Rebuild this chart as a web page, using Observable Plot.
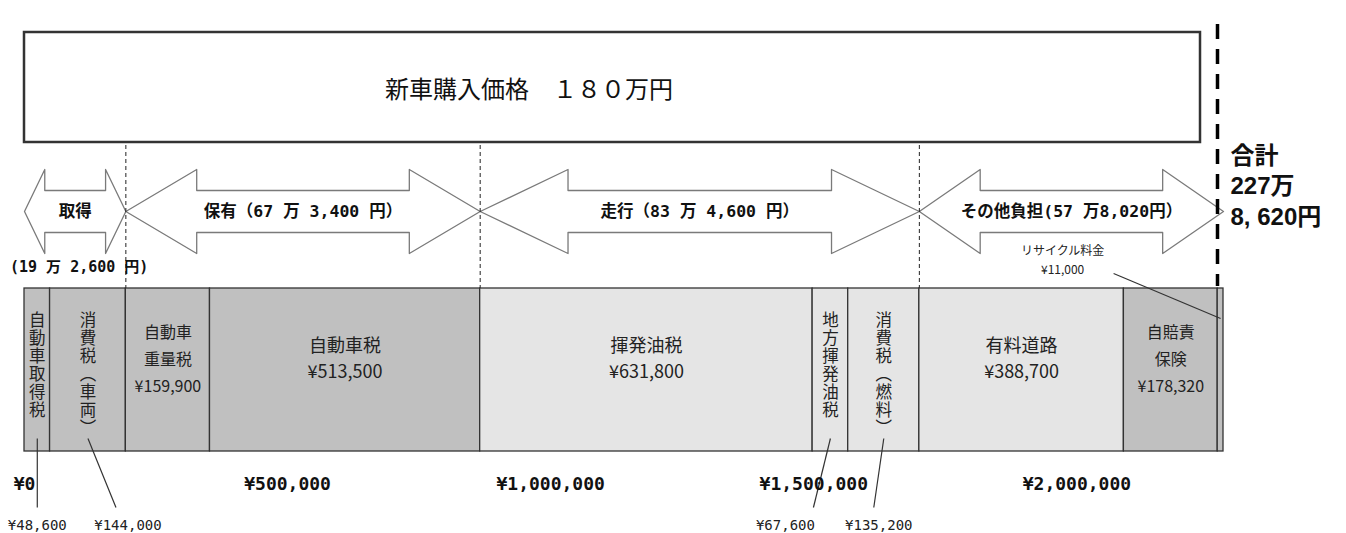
<!DOCTYPE html>
<html>
<head>
<meta charset="utf-8">
<script src="https://cdn.jsdelivr.net/npm/d3@7"></script>
<script src="https://cdn.jsdelivr.net/npm/@observablehq/plot@0.6"></script>
<style>
  html, body { margin: 0; padding: 0; background: #fff; }
  #chart { width: 1346px; height: 533px; overflow: hidden; }
</style>
</head>
<body>
<div id="chart"></div>
<script>
// ---------------- DATA ----------------
const categories = ["自動車取得税", "消費税（車両）", "自動車重量税", "自動車税", "揮発油税",
  "地方揮発油税", "消費税（燃料）", "有料道路", "自賠責保険", "リサイクル料金"];
const values = [48600, 144000, 159900, 513500, 631800, 67600, 135200, 388700, 178320, 11000];
const groupOf = ["取得", "取得", "保有", "保有", "走行", "走行", "走行", "その他", "その他", "その他"];
const costType = ["固定", "固定", "固定", "固定", "走行", "走行", "走行", "走行", "固定", "固定"];
const displayNames = ["自動車取得税", "消費税（車両）", "自動車\n重量税", "自動車税", "揮発油税",
  "地方揮発油税", "消費税（燃料）", "有料道路", "自賠責\n保険", "リサイクル料金"];
const groupNames = ["取得", "保有", "走行", "その他"];
const groupLabels = ["取得", "保有（67 万 3,400 円）", "走行（83 万 4,600 円）", "その他負担(57 万8,020円）"];
const groupSubLabels = ["(19 万 2,600 円)", "", "", ""];
const purchaseLabel = "新車購入価格　１８０万円";
const totalLabel = "合計\n227万\n8, 620円";
const tickValues = [0, 500000, 1000000, 1500000, 2000000];

// ---------------- LAYOUT ----------------
const W = 1346, H = 533, ML = 24, MR = 123, MB = 82;
const Y = {
  bannerTop: 32, bannerBottom: 142, bannerText: 90,
  guideTop: 145, arrowMid: 211, headHalf: 42, shaftHalf: 21, groupSub: 267,
  barTop: 288, barBottom: 451, barText: 356, vertTop: 306,
  leaderTop: 438, leaderBottom: 507, valueLabel: 525,
  totalTop: 24, totalBottom: 286, totalText: 184,
  recycleText: 258, recycleLineTop: 273, recycleLineBottom: 318
};
// pixel offsets of call-out labels for narrow segments
const callout = {
  "自動車取得税": {line: 0, label: 0},
  "消費税（車両）": {line: 28, label: 40},
  "地方揮発油税": {line: -17, label: -45},
  "消費税（燃料）": {line: -10, label: -5}
};
const CJK = "'Noto Sans CJK JP', sans-serif";
const MONO = "'DejaVu Sans Mono', 'Noto Sans CJK JP', monospace";

// ---------------- DERIVED ----------------
let acc = 0;
const segs = categories.map((c, i) => {
  const s = {name: c, label: displayNames[i], value: values[i], group: groupOf[i], type: costType[i], x1: acc, x2: acc + values[i]};
  acc += values[i];
  s.mid = (s.x1 + s.x2) / 2;
  return s;
});
const total = acc;
const xs = d3.scaleLinear().domain([0, total]).range([ML, W - MR]);
const pxw = s => xs(s.x2) - xs(s.x1);
const px2v = px => px * total / (W - ML - MR);
const yen = v => "¥" + d3.format(",")(v);

const groups = groupNames.map((g, i) => {
  const m = segs.filter(s => s.group === g);
  return {name: g, label: groupLabels[i], sub: groupSubLabels[i], x1: m[0].x1, x2: m[m.length - 1].x2, mid: (m[0].x1 + m[m.length - 1].x2) / 2};
});
const arrowPts = groups.flatMap(g => {
  const h = (g.x2 - g.x1) * 0.2, a = g.x1, b = g.x2, m = Y.arrowMid, HH = Y.headHalf, S = Y.shaftHalf;
  return [[a, m], [a + h, m - HH], [a + h, m - S], [b - h, m - S], [b - h, m - HH], [b, m],
          [b - h, m + HH], [b - h, m + S], [a + h, m + S], [a + h, m + HH], [a, m]]
    .map(([x, y]) => ({g: g.name, x, y}));
});
const boundaries = groups.slice(0, -1).map(g => g.x2);

const hSegs = segs.filter(s => pxw(s) >= 80);
const hSegs2 = hSegs.filter(s => !s.label.includes("\n"));
const hSegs3 = hSegs.filter(s => s.label.includes("\n"));
const vSegs = segs.filter(s => pxw(s) >= 15 && pxw(s) < 80);
const tinySegs = segs.filter(s => pxw(s) < 15);

// ---------------- PLOT ----------------
const chart = Plot.plot({
  width: W, height: H,
  marginLeft: ML, marginRight: MR, marginTop: 0, marginBottom: MB,
  x: {domain: [0, total]},
  y: {domain: [0, H], range: [0, H], axis: null},
  color: {domain: ["固定", "走行"], range: ["#c0c0c0", "#e5e5e5"]},
  style: {fontFamily: CJK, background: "white", color: "#111"},
  marks: [
    // banner
    Plot.rect([purchaseLabel], {x1: 0, x2: total, y1: Y.bannerTop, y2: Y.bannerBottom, insetRight: 23,
      fill: "white", stroke: "#333", strokeWidth: 2.5}),
    Plot.text([purchaseLabel], {x: total / 2, y: Y.bannerText, dx: -95, text: d => d, fontSize: 24, fill: "#111"}),
    // arrows
    Plot.line(arrowPts, {x: "x", y: "y", z: "g", fill: "white", stroke: "#7a7a7a", strokeWidth: 1.3, curve: "linear"}),
    Plot.ruleX(boundaries, {y1: Y.guideTop, y2: Y.barTop, stroke: "#222", strokeWidth: 1, strokeDasharray: "4,3"}),
    Plot.text(groups, {x: "mid", y: Y.arrowMid, text: "label", fontSize: 16.5, fontWeight: "bold", fontFamily: MONO, fill: "#111"}),
    Plot.text(groups.filter(g => g.sub), {x: "mid", y: Y.groupSub, dx: 4, text: "sub", fontSize: 15, fontWeight: "bold", fontFamily: MONO, fill: "#111"}),
    // total line & label
    Plot.ruleX([total], {y1: Y.totalTop, y2: Y.totalBottom, dx: -6, stroke: "#000", strokeWidth: 3.5, strokeDasharray: "15,10"}),
    Plot.text([totalLabel], {x: total, y: Y.totalText, dx: 7, text: d => d, textAnchor: "start", lineAnchor: "middle",
      fontSize: 24, lineHeight: 1.28, fontWeight: "bold", fontFamily: "'Liberation Sans', 'Noto Sans CJK JP', sans-serif", fill: "#111"}),
    // bar
    Plot.rect(segs, {x1: "x1", x2: "x2", y1: Y.barTop, y2: Y.barBottom, fill: "type", stroke: "#333", strokeWidth: 1.3}),
    Plot.text(hSegs2, {x: "mid", y: Y.barText, text: s => s.label + "\n" + yen(s.value), fontSize: 18, lineHeight: 1.45, fill: "#222"}),
    Plot.text(hSegs3, {x: "mid", y: Y.barText, text: s => s.label + "\n" + yen(s.value), fontSize: 16, lineHeight: 1.7, fill: "#222"}),
    Plot.text(vSegs, {x: "mid", y: Y.vertTop, text: "name", textAnchor: "start", fontSize: 16.5, fill: "#222"}),
    // call-outs for narrow segments
    Plot.link(vSegs, {x1: "mid", y1: Y.leaderTop, x2: s => s.mid + px2v(callout[s.name].line), y2: Y.leaderBottom, stroke: "#333", strokeWidth: 1.2}),
    Plot.text(vSegs, {x: s => s.mid + px2v(callout[s.name].label), y: Y.valueLabel, text: s => yen(s.value), fontSize: 14, fontFamily: MONO, fill: "#222"}),
    // tiny segment (recycling fee)
    Plot.link(tinySegs, {x1: s => s.mid + px2v(-107), y1: Y.recycleLineTop, x2: "mid", y2: Y.recycleLineBottom, stroke: "#333", strokeWidth: 1.2}),
    Plot.text(tinySegs, {x: s => s.mid + px2v(-158), y: Y.recycleText, text: s => s.name + "\n" + yen(s.value), fontSize: 12, lineHeight: 1.6, fill: "#222"}),
    // axis
    Plot.axisX(tickValues, {anchor: "bottom", tickSize: 0, tickPadding: 26, tickFormat: yen, label: null,
      fontSize: 18, fontWeight: "bold", fontFamily: MONO, fill: "#111"})
  ]
});
// set the narrow segments' names in vertical (tategaki) writing mode
const vNames = new Set(vSegs.map(s => s.name));
d3.select(chart).selectAll("text").filter(function() { return vNames.has(this.textContent); })
  .attr("writing-mode", "vertical-rl")
  .attr("dy", null)
  .style("letter-spacing", "1.5px");
document.getElementById("chart").appendChild(chart);
</script>
</body>
</html>
